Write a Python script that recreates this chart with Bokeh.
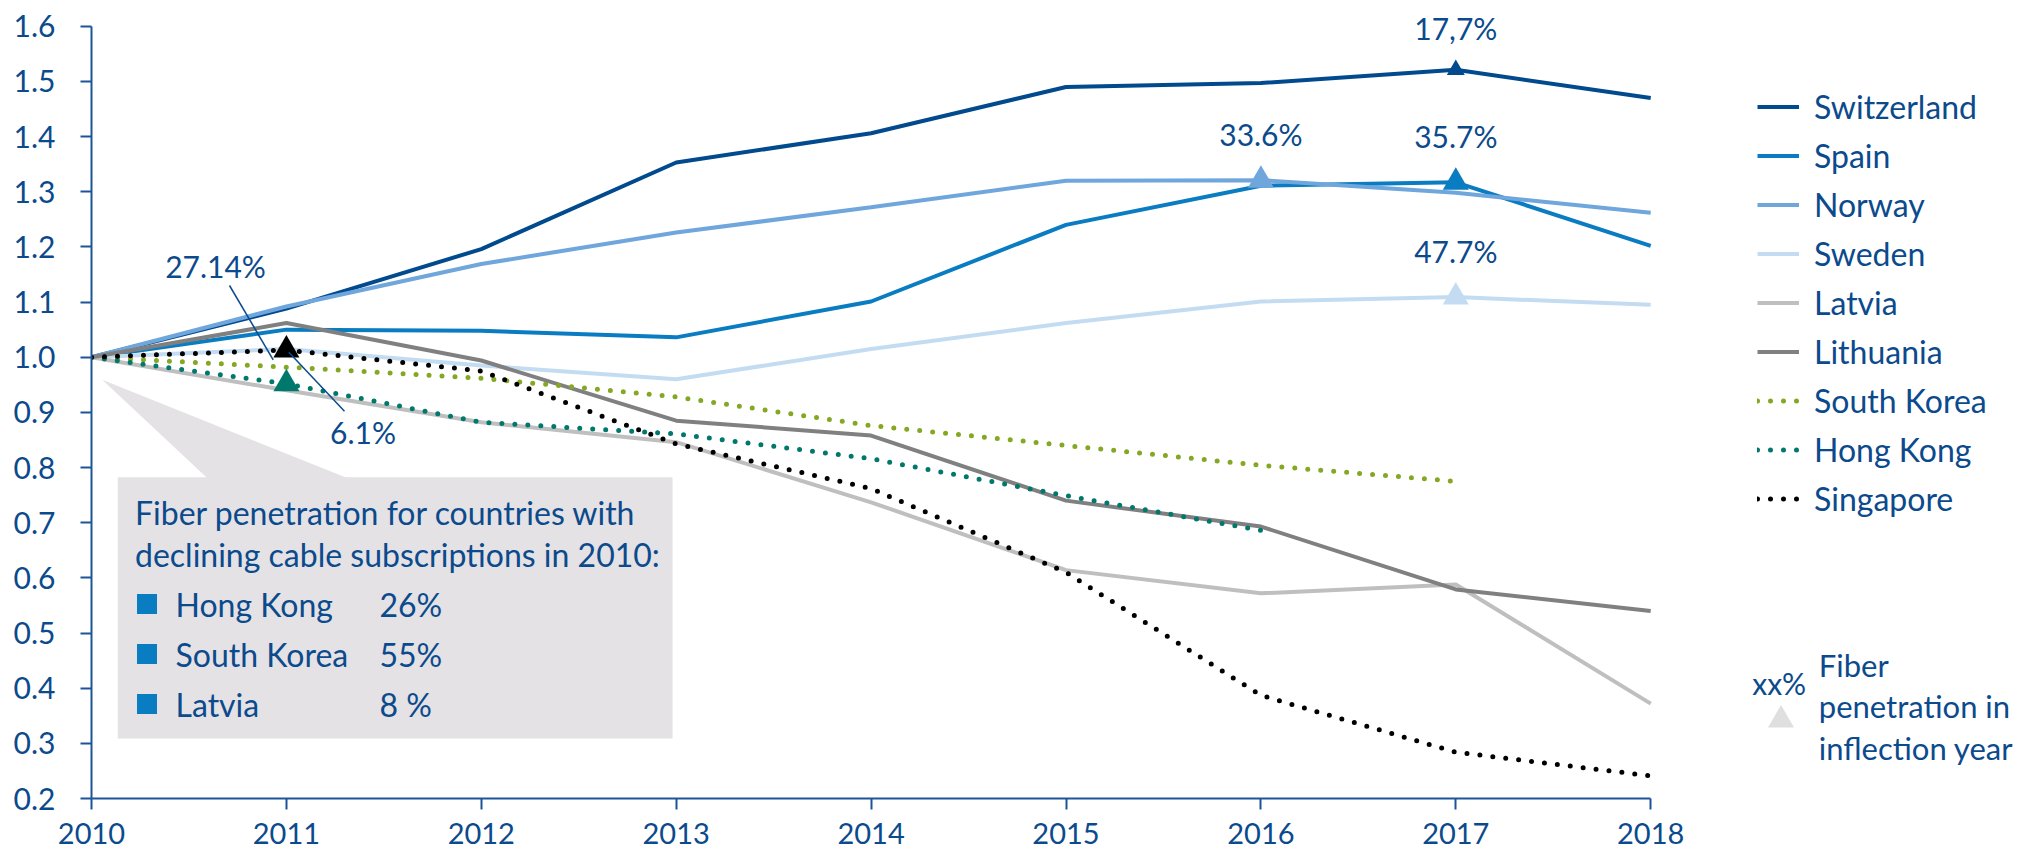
from bokeh.plotting import figure
from bokeh.models import Legend, LegendItem, Label, LinearAxis, FixedTicker, Range1d
from bokeh.embed import file_html
from bokeh.resources import INLINE

# ---------------- data ----------------
years = [2010, 2011, 2012, 2013, 2014, 2015, 2016, 2017, 2018]
x_tick_labels = ["2010", "2011", "2012", "2013", "2014", "2015", "2016", "2017", "2018"]
y_ticks = [0.2, 0.3, 0.4, 0.5, 0.6, 0.7, 0.8, 0.9, 1.0, 1.1, 1.2, 1.3, 1.4, 1.5, 1.6]
y_tick_labels = ["0.2", "0.3", "0.4", "0.5", "0.6", "0.7", "0.8", "0.9", "1.0",
                 "1.1", "1.2", "1.3", "1.4", "1.5", "1.6"]

switzerland = [1.0, 1.088, 1.196, 1.353, 1.406, 1.490, 1.497, 1.521, 1.470]
spain = [1.0, 1.050, 1.048, 1.036, 1.101, 1.240, 1.311, 1.317, 1.202]
norway = [1.0, 1.092, 1.169, 1.226, 1.272, 1.320, 1.321, 1.298, 1.262]
sweden = [1.0, 1.015, 0.985, 0.960, 1.015, 1.062, 1.101, 1.109, 1.095]
latvia = [1.0, 0.940, 0.882, 0.846, 0.737, 0.614, 0.572, 0.588, 0.372]
lithuania = [1.0, 1.062, 0.994, 0.885, 0.858, 0.740, 0.693, 0.579, 0.540]
south_korea = [1.0, 0.982, 0.962, 0.928, 0.876, 0.840, 0.804, 0.775]
hong_kong = [1.0, 0.952, 0.882, 0.861, 0.816, 0.749, 0.686]
singapore = [1.0, 1.013, 0.975, 0.843, 0.762, 0.610, 0.387, 0.284, 0.241]

# inflection points: (series name, year, fiber penetration label)
inflection_names = ["Switzerland", "Spain", "Norway", "Sweden", "Singapore", "Hong Kong"]
inflection_years = [2017, 2017, 2016, 2017, 2011, 2011]
inflection_labels = ["17,7%", "35.7%", "33.6%", "47.7%", "27.14%", "6.1%"]

box_countries = ["Hong Kong", "South Korea", "Latvia"]
box_values = ["26%", "55%", "8 %"]
box_title = ["Fiber penetration for countries with",
             "declining cable subscriptions in 2010:"]
key_lines = ["Fiber", "penetration in", "inflection year"]

# ---------------- style ----------------
FONT = "Lato"
TEXT = "#0b4a8c"
AXIS = "#1c5597"
GREY_BOX = "#e4e2e4"

series = [
    ("Switzerland", switzerland, "#004a8d", None),
    ("Spain", spain, "#0a7cc2", None),
    ("Norway", norway, "#6fa6dc", None),
    ("Sweden", sweden, "#c4dcf1", None),
    ("Latvia", latvia, "#bfbfbf", None),
    ("Lithuania", lithuania, "#808080", None),
    ("South Korea", south_korea, "#84a824", "dot"),
    ("Hong Kong", hong_kong, "#00786c", "dot"),
    ("Singapore", singapore, "#000000", "dot"),
]
tri_size = {"Switzerland": 18}

W, H = 2016, 854
ML, MB = 91, 56
X0 = ML            # canvas x of 2010
Y0 = H - MB        # canvas y of 0.2
PX_YEAR = 194.9
PX_UNIT = 551.6


def dx(px):
    return 2010 + (px - X0) / PX_YEAR


def dy(py):
    return 0.2 + (Y0 - py) / PX_UNIT


def label(x, y, text, size, align="left"):
    return Label(x=x, y=y, text=text, text_align=align, text_baseline="middle",
                 text_font=FONT, text_font_size=size, text_color=TEXT)


p = figure(width=W, height=H,
           x_range=Range1d(2010, 2010 + (W - ML) / PX_YEAR),
           y_range=Range1d(0.2, 0.2 + (H - MB) / PX_UNIT),
           output_backend="svg", toolbar_location=None,
           x_axis_type=None, y_axis_type=None,
           min_border_left=ML, min_border_right=0, min_border_top=0, min_border_bottom=MB)
p.outline_line_color = None
p.background_fill_color = "white"
p.border_fill_color = "white"

xaxis = LinearAxis(ticker=FixedTicker(ticks=years), bounds=(2010, 2018),
                   major_label_overrides={y: l for y, l in zip(years, x_tick_labels)})
yaxis = LinearAxis(ticker=FixedTicker(ticks=y_ticks), bounds=(0.2, 1.6),
                   major_label_overrides={t: l for t, l in zip(y_ticks, y_tick_labels)})
for ax in (xaxis, yaxis):
    ax.axis_line_color = AXIS
    ax.axis_line_width = 2
    ax.major_tick_line_color = AXIS
    ax.major_tick_line_width = 2
    ax.major_tick_out = 11
    ax.major_tick_in = 0
    ax.minor_tick_line_color = None
    ax.major_label_text_font = FONT
    ax.major_label_text_color = TEXT
xaxis.major_label_text_font_size = "29px"
yaxis.major_label_text_font_size = "30px"
xaxis.major_label_standoff = 13
yaxis.major_label_standoff = 25
p.add_layout(xaxis, "below")
p.add_layout(yaxis, "left")

# callout box
p.patch([dx(101.7), dx(206.7), dx(346.7)], [dy(379.3), dy(477.5), dy(477.5)],
        fill_color=GREY_BOX, line_color=None)
p.quad(left=[dx(117.3)], right=[dx(672)], top=[dy(476.7)], bottom=[dy(738)],
       fill_color=GREY_BOX, line_color=None)

renderers = {}
for name, vals, col, style in series:
    xs = years[:len(vals)]
    if style == "dot":
        r = p.line(xs, vals, line_color=col, line_width=5, line_dash="0 13", line_cap="round")
    else:
        r = p.line(xs, vals, line_color=col, line_width=4)
    renderers[name] = r

# inflection triangles
lookup = {name: (vals, col) for name, vals, col, style in series}
for name, yr in zip(inflection_names, inflection_years):
    vals, col = lookup[name]
    v = vals[years.index(yr)]
    p.scatter([yr], [v], marker="triangle", size=tri_size.get(name, 26),
              fill_color=col, line_color=None)

# percentage labels (centre positions on the page)
label_pos = {
    "Switzerland": (None, 27.0),
    "Spain": (None, 135.0),
    "Norway": (None, 133.5),
    "Sweden": (None, 250.0),
    "Singapore": (215.0, 265.5),
    "Hong Kong": (362.5, 431.5),
}
for name, yr, txt in zip(inflection_names, inflection_years, inflection_labels):
    px, py = label_pos[name]
    x = yr if px is None else dx(px)
    p.add_layout(label(x, dy(py), txt, "30px", "center"))

# leader lines
p.segment(x0=[dx(229), dx(288.3)], y0=[dy(285), dy(351.7)],
          x1=[dx(272.7), dx(344)], y1=[dy(359.3), dy(410.7)],
          line_color=TEXT, line_width=1.5)

# box text
for i, t in enumerate(box_title):
    p.add_layout(label(dx(134.5), dy(512 + 42 * i), t, "32px"))
for i, (c, v) in enumerate(zip(box_countries, box_values)):
    mid = 603.5 + 50 * i
    p.scatter([dx(146.5)], [dy(mid)], marker="square", size=20,
              fill_color="#0a7cc2", line_color=None)
    p.add_layout(label(dx(175), dy(mid), c, "32px"))
    p.add_layout(label(dx(379), dy(mid), v, "32px"))

# legend
legend = Legend(items=[LegendItem(label=n, renderers=[renderers[n]]) for n, *_ in series],
                location=(1757 - ML, Y0 - 81.5 - 9 * 49),
                orientation="vertical", glyph_width=42, glyph_height=49,
                label_height=49, spacing=0, padding=0, margin=0, label_standoff=15,
                label_text_font=FONT, label_text_font_size="32px",
                label_text_color=TEXT, background_fill_alpha=0, border_line_alpha=0)
p.add_layout(legend)

# inflection key
p.add_layout(label(dx(1751.7), dy(682.5), "xx%", "30px"))
p.scatter([dx(1780.5)], [dy(719.5)], marker="triangle", size=26,
          fill_color="#e0dfe0", line_color=None)
for i, t in enumerate(key_lines):
    p.add_layout(label(dx(1818.3), dy(664 + 41.7 * i), t, "31px"))

open("out.html", "w").write(file_html(p, INLINE))
